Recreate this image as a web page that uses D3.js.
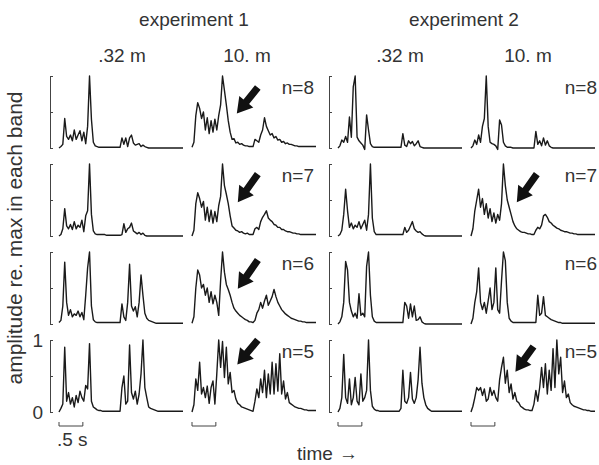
<!DOCTYPE html>
<html>
<head>
<meta charset="utf-8">
<script src="https://cdn.jsdelivr.net/npm/d3@7"></script>
<style>
  body { margin: 0; background: #fff; }
  svg text { font-family: "Liberation Sans", Arial, sans-serif; fill: #333; }
</style>
</head>
<body>
<svg id="chart" width="599" height="465"></svg>
<script>
// sampled envelopes, one value every dt seconds, amplitude re. max in each band
const dt = 0.04

const expLabels  = ['experiment 1', 'experiment 2']
const distLabels = ['.32 m', '10. m', '.32 m', '10. m']
const bandLabels = ['n=8', 'n=7', 'n=6', 'n=5']

const exp1Near_n8 = [
  0, 0.02, 0.05, 0.41, 0.16, 0.12, 0.18, 0.1, 0.25, 0.12,
  0.18, 0.24, 0.1, 0.22, 0.06, 0.3, 1.0, 0.4, 0.08, 0.03,
  0.02, 0.01, 0.01, 0.01, 0.01, 0.01, 0.01, 0.01, 0.01, 0.01,
  0.01, 0.01, 0.01, 0.14, 0.05, 0.14, 0.02, 0.14, 0.18, 0.07,
  0.04, 0.05, 0.06, 0.02, 0.04, 0.02, 0.01, 0, 0, 0,
  0, 0, 0, 0, 0, 0, 0, 0, 0, 0,
  0, 0, 0, 0, 0, 0]
const exp1Far_n8 = [
  0.01, 0.08, 0.45, 0.63, 0.55, 0.41, 0.5, 0.25, 0.42, 0.2,
  0.38, 0.22, 0.4, 0.25, 0.45, 0.6, 1.0, 0.8, 0.6, 0.38,
  0.22, 0.12, 0.13, 0.07, 0.08, 0.05, 0.06, 0.04, 0.03, 0.03,
  0.02, 0.02, 0.02, 0.12, 0.1, 0.08, 0.18, 0.25, 0.42, 0.3,
  0.24, 0.18, 0.2, 0.14, 0.16, 0.11, 0.12, 0.08, 0.09, 0.06,
  0.07, 0.05, 0.05, 0.04, 0.03, 0.03, 0.02, 0.02, 0.02, 0.02,
  0.02, 0.02, 0.02, 0.02, 0.02, 0.02]
const exp2Near_n8 = [
  0, 0.03, 0.11, 0.08, 0.16, 0.08, 0.43, 0.15, 0.85, 1.0,
  0.15, 0.1, 0.07, 0.04, -0.02, 0.46, 0.25, 0.06, 0.02, 0.01,
  0.01, 0.01, 0.01, 0.01, 0.01, 0.01, 0.01, 0.01, 0.01, 0.01,
  0.01, 0.01, 0.01, 0.01, 0.2, 0.04, 0.02, 0.1, 0.06, 0.09,
  0.03, 0.06, 0.1, 0.02, 0.01, 0, 0, 0, 0, 0,
  0, 0, 0, 0, 0, 0, 0, 0, 0, 0,
  0, 0, 0, 0, 0, 0]
const exp2Far_n8 = [
  0, 0.03, 0.11, 0.05, 0.18, 0.08, 0.3, 0.41, 1.0, 0.3,
  0.08, 0.06, 0.05, 0.03, -0.02, 0.39, 0.32, 0.08, 0.03, 0.01,
  0.01, 0.01, 0, 0, 0, 0, 0, 0, 0, 0,
  0, 0, 0, 0, 0.23, 0.05, 0.1, 0.03, 0.14, 0.04,
  0.1, 0.03, 0.01, 0, 0, 0, 0, 0, 0, 0,
  0, 0, 0, 0, 0, 0, 0, 0, 0, 0,
  0, 0, 0, 0, 0, 0]

const exp1Near_n7 = [
  0, 0.02, 0.1, 0.38, 0.14, 0.1, 0.16, 0.09, 0.2, 0.1,
  0.15, 0.12, 0.22, 0.06, 0.28, 0.35, 1.0, 0.3, 0.07, 0.03,
  0.02, 0.02, 0.02, 0.02, 0.02, 0.01, 0.01, 0.01, 0.01, 0.01,
  0.01, 0.01, 0.01, 0.02, 0.17, 0.05, 0.1, 0.12, 0.18, 0.07,
  0.05, 0.03, 0.05, 0.02, 0.04, 0.01, 0, 0, 0, 0,
  0, 0, 0, 0, 0, 0, 0, 0, 0, 0,
  0, 0, 0, 0, 0, 0]
const exp1Far_n7 = [
  0, 0.08, 0.45, 0.6, 0.52, 0.4, 0.48, 0.22, 0.4, 0.2,
  0.36, 0.18, 0.34, 0.2, 0.42, 0.55, 1.0, 0.7, 0.58, 0.45,
  0.28, 0.14, 0.11, 0.08, 0.07, 0.05, 0.06, 0.04, 0.03, 0.04,
  0.02, 0.02, 0.02, 0.1, 0.12, 0.09, 0.2, 0.26, 0.3, 0.35,
  0.25, 0.22, 0.2, 0.16, 0.15, 0.12, 0.12, 0.09, 0.09, 0.07,
  0.06, 0.06, 0.05, 0.04, 0.04, 0.03, 0.03, 0.02, 0.02, 0.02,
  0.02, 0.02, 0.02, 0.02, 0.02, 0.02]
const exp2Near_n7 = [
  0, 0.02, 0.08, 0.3, 0.65, 0.35, 0.12, 0.18, 0.1, 0.15,
  0.12, 0.2, 0.1, 0.16, 0.22, 0.08, 0.3, 1.0, 0.25, 0.06,
  0.02, 0.02, 0.02, 0.02, 0.02, 0.02, 0.02, 0.02, 0.02, 0.02,
  0.02, 0.02, 0.02, 0.02, 0.02, 0.12, 0.05, 0.08, 0.14, 0.2,
  0.1, 0.07, 0.05, 0.06, 0.03, 0.01, 0, 0, 0, 0,
  0, 0, 0, 0, 0, 0, 0, 0, 0, 0,
  0, 0, 0, 0, 0, 0]
const exp2Far_n7 = [
  0, 0.1, 0.35, 0.5, 0.65, 0.4, 0.52, 0.3, 0.45, 0.25,
  0.38, 0.2, 0.32, 0.18, 0.3, 0.22, 0.45, 1.0, 0.7, 0.5,
  0.4, 0.3, 0.2, 0.14, 0.1, 0.08, 0.06, 0.05, 0.05, 0.04,
  0.03, 0.03, 0.02, 0.02, 0.08, 0.12, 0.1, 0.15, 0.28, 0.3,
  0.26, 0.2, 0.18, 0.15, 0.13, 0.11, 0.1, 0.08, 0.07, 0.06,
  0.06, 0.05, 0.04, 0.04, 0.03, 0.03, 0.02, 0.02, 0.02, 0.02,
  0.02, 0.02, 0.02, 0.02, 0.02, 0.02]

const exp1Near_n6 = [
  0.02, 0.05, 0.25, 0.86, 0.3, 0.12, 0.2, 0.1, 0.14, 0.12,
  0.18, 0.1, 0.16, 0.06, 0.4, 0.78, 1.0, 0.25, 0.06, 0.03,
  0.02, 0.02, 0.02, 0.02, 0.02, 0.02, 0.02, 0.02, 0.02, 0.02,
  0.02, 0.02, 0.02, 0.28, 0.1, 0.05, 0.3, 0.83, 0.25, 0.18,
  0.24, 0.1, 0.3, 0.68, 0.4, 0.15, 0.08, 0.05, 0.04, 0.03,
  0.02, 0.01, 0.01, 0.01, 0.01, 0.01, 0.01, 0.01, 0.01, 0.01,
  0.01, 0.01, 0.01, 0.01, 0.01, 0.01]
const exp1Far_n6 = [
  0.01, 0.1, 0.5, 0.75, 0.68, 0.5, 0.55, 0.4, 0.5, 0.3,
  0.45, 0.28, 0.4, 0.3, 0.12, 0.6, 1.0, 0.72, 0.55, 0.48,
  0.4, 0.3, 0.22, 0.18, 0.15, 0.12, 0.1, 0.08, 0.06, 0.05,
  0.03, 0.03, 0.02, 0.05, 0.15, 0.2, 0.3, 0.22, 0.32, 0.4,
  0.26, 0.32, 0.38, 0.48, 0.38, 0.3, 0.25, 0.2, 0.17, 0.14,
  0.12, 0.1, 0.08, 0.07, 0.06, 0.05, 0.04, 0.04, 0.03, 0.03,
  0.02, 0.02, 0.02, 0.02, 0.02, 0.02]
const exp2Near_n6 = [
  0, 0.03, 0.1, 0.3, 0.87, 0.75, 0.3, 0.18, 0.1, 0.15,
  0.08, 0.42, 0.12, 0.15, 0.1, 0.8, 1.0, 0.4, 0.1, 0.04,
  0.02, 0.02, 0.02, 0.02, 0.02, 0.02, 0.02, 0.02, 0.02, 0.02,
  0.02, 0.02, 0.02, 0.02, 0.02, 0.3, 0.25, 0.08, 0.28, 0.1,
  0.25, 0.05, 0.06, 0.1, 0.03, 0.01, 0, 0, 0, 0,
  0, 0, 0, 0, 0, 0, 0, 0, 0, 0,
  0, 0, 0, 0, 0, 0]
const exp2Far_n6 = [
  0, 0.08, 0.3, 0.45, 0.78, 0.3, 0.2, 0.3, 0.15, 0.32,
  0.5, 0.2, 0.3, 0.78, 0.2, 0.15, 0.6, 1.0, 0.88, 0.3,
  0.08, 0.04, 0.02, 0.02, 0.02, 0.02, 0.02, 0.02, 0.02, 0.02,
  0.02, 0.02, 0.02, 0.02, 0.02, 0.4, 0.12, 0.15, 0.38, 0.12,
  0.1, 0.08, 0.06, 0.05, 0.04, 0.03, 0.02, 0.02, 0.01, 0.01,
  0.01, 0.01, 0.01, 0.01, 0.01, 0.01, 0.01, 0.01, 0.01, 0.01,
  0.01, 0.01, 0.01, 0.01, 0.01, 0.01]

const exp1Near_n5 = [
  0, 0.05, 0.11, 0.9, 0.15, 0.27, 0.11, 0.2, 0.07, 0.23,
  0.13, 0.29, 0.2, 0.15, 0.37, 0.32, 0.95, 0.15, 0.07, 0.05,
  0.03, 0.02, 0.02, 0.01, 0.01, 0.01, 0.01, 0.01, 0.01, 0.01,
  0.01, 0.01, 0.01, 0.34, 0.5, 0.11, 0.15, 0.93, 0.27, 0.18,
  0.29, 0.11, 0.25, 0.53, 1.0, 0.34, 0.2, 0.07, 0.05, 0.04,
  0.03, 0.02, 0.01, 0.01, 0.01, 0.01, 0.01, 0.01, 0.01, 0.01,
  0.01, 0.01, 0.01, 0.01, 0.01, 0.01]
const exp1Far_n5 = [
  0, 0.1, 0.46, 0.3, 0.69, 0.25, 0.34, 0.2, 0.36, 0.12,
  0.34, 0.43, 0.11, 0.53, 1.0, 0.62, 0.98, 0.48, 0.9, 0.39,
  0.55, 0.27, 0.3, 0.18, 0.12, 0.1, 0.07, 0.06, 0.05, 0.04,
  0.03, 0.02, 0.01, 0.15, 0.32, 0.2, 0.46, 0.27, 0.58, 0.2,
  0.53, 0.25, 0.69, 0.25, 0.67, 0.29, 0.81, 0.25, 0.43, 0.18,
  0.27, 0.13, 0.11, 0.09, 0.07, 0.06, 0.05, 0.05, 0.04, 0.03,
  0.03, 0.02, 0.02, 0.02, 0.02, 0.02]
const exp2Near_n5 = [
  0, 0.05, 0.2, 0.8, 0.2, 0.12, 0.46, 0.1, 0.2, 0.48,
  0.15, 0.1, 0.53, 0.15, 0.2, 0.3, 1.0, 0.3, 0.08, 0.04,
  0.02, 0.02, 0.01, 0.01, 0.01, 0.01, 0.01, 0.01, 0.01, 0.01,
  0.01, 0.01, 0.01, 0.05, 0.58, 0.15, 0.12, 0.2, 0.55, 0.18,
  0.12, 0.2, 0.45, 0.9, 0.4, 0.2, 0.1, 0.05, 0.03, 0.01,
  0.01, 0.01, 0.01, 0.01, 0.01, 0.01, 0.01, 0.01, 0.01, 0.01,
  0.01, 0.01, 0.01, 0.01, 0.01, 0.01]
const exp2Far_n5 = [
  0, 0.08, 0.2, 0.34, 0.3, 0.34, 0.23, 0.32, 0.15, 0.18,
  0.34, 0.23, 0.3, 0.2, 0.15, 0.45, 0.62, 0.76, 0.4, 0.58,
  0.27, 0.39, 0.18, 0.27, 0.15, 0.13, 0.08, 0.06, 0.04, 0.03,
  0.03, 0.02, 0.02, 0.11, 0.3, 0.15, 0.34, 0.62, 0.34, 0.67,
  0.25, 0.58, 0.3, 0.88, 0.34, 1.0, 0.53, 0.76, 0.27, 0.43,
  0.2, 0.25, 0.13, 0.1, 0.08, 0.07, 0.06, 0.05, 0.04, 0.03,
  0.03, 0.02, 0.02, 0.01, 0.01, 0.01]

const rows = [
  [exp1Near_n8, exp1Far_n8, exp2Near_n8, exp2Far_n8],
  [exp1Near_n7, exp1Far_n7, exp2Near_n7, exp2Far_n7],
  [exp1Near_n6, exp1Far_n6, exp2Near_n6, exp2Far_n6],
  [exp1Near_n5, exp1Far_n5, exp2Near_n5, exp2Far_n5]
]

// arrows: [row, col, tail t, tail amp, tip t, tip amp]
const arrows = [
  [0, 1, 1.38, 0.84, 0.94, 0.48],
  [1, 1, 1.38, 0.86, 0.96, 0.47],
  [2, 1, 1.38, 0.89, 0.96, 0.49],
  [3, 1, 1.38, 1.0, 0.95, 0.66],
  [1, 3, 1.38, 0.86, 0.96, 0.47],
  [3, 3, 1.31, 0.91, 0.93, 0.56]
]

// layout
const colLeft = [59, 192, 338, 471]
const rowTop  = [76, 164, 252, 340]
const panelW = 124, panelH = 72
const ink = '#1a1a1a', grey = '#444'

const svg = d3.select('#chart')

const x = d3.scaleLinear().domain([0, 2.6]).range([0, panelW])
const y = d3.scaleLinear().domain([0, 1]).range([panelH, 0])

const line = d3.line()
  .x((d, i) => x(i * dt))
  .y(d => y(d))

rows.forEach((row, r) => {
  row.forEach((vals, c) => {
    const g = svg.append('g')
      .attr('transform', 'translate(' + colLeft[c] + ',' + rowTop[r] + ')')

    g.append('path')
      .datum(vals)
      .attr('d', line)
      .attr('fill', 'none')
      .attr('stroke', ink)
      .attr('stroke-width', 1.4)
      .attr('stroke-linejoin', 'round')

    if (c === 0 || c === 2) {
      const ax = svg.append('g')
        .attr('transform', 'translate(' + (colLeft[c] - 9) + ',' + rowTop[r] + ')')
        .call(d3.axisLeft(y)
          .tickValues([0, 0.5, 1])
          .tickSizeInner(-3)
          .tickSizeOuter(-3)
          .tickPadding(7)
          .tickFormat(d => (r === 3 && c === 0 && d !== 0.5) ? d3.format('d')(d) : ''))
      ax.attr('color', grey)
      ax.selectAll('text')
        .attr('font-size', 19)
        .attr('font-family', '"Liberation Sans", Arial, sans-serif')
        .style('fill', '#333')
    }

    if (c === 1 || c === 3) {
      svg.append('text')
        .attr('x', c === 1 ? 314 : 597)
        .attr('y', rowTop[r] + 18)
        .attr('text-anchor', 'end')
        .attr('font-size', 19)
        .text(bandLabels[r])
    }
  })
})

// black arrows
function arrowPath (x0, y0, x1, y1) {
  const dx = x1 - x0, dy = y1 - y0
  const L = Math.sqrt(dx * dx + dy * dy)
  const ux = dx / L, uy = dy / L
  const nx = -uy, ny = ux
  const head = 15, sh = 3.6, hh = 9
  const bx = x1 - ux * head, by = y1 - uy * head
  const pts = [
    [x0 + nx * sh, y0 + ny * sh],
    [bx + nx * sh, by + ny * sh],
    [bx + nx * hh, by + ny * hh],
    [x1, y1],
    [bx - nx * hh, by - ny * hh],
    [bx - nx * sh, by - ny * sh],
    [x0 - nx * sh, y0 - ny * sh]
  ]
  return 'M' + pts.map(p => p[0].toFixed(1) + ',' + p[1].toFixed(1)).join('L') + 'Z'
}

arrows.forEach(a => {
  const ox = colLeft[a[1]], oy = rowTop[a[0]]
  svg.append('path')
    .attr('d', arrowPath(ox + x(a[2]), oy + y(a[3]), ox + x(a[4]), oy + y(a[5])))
    .attr('fill', '#111')
})

// .5 s scale bars under the bottom row
colLeft.forEach(cx => {
  const x0 = cx + x(0), x1 = cx + x(0.5)
  svg.append('path')
    .attr('d', 'M' + x0 + ',422V426H' + x1 + 'V422')
    .attr('fill', 'none')
    .attr('stroke', grey)
    .attr('stroke-width', 1)
})

svg.append('text').attr('x', 57).attr('y', 446).attr('font-size', 19).text('.5 s')

const tl = svg.append('text').attr('x', 297).attr('y', 460).attr('font-size', 19)
tl.append('tspan').text('time')
tl.append('tspan').attr('dx', 6).text('\u2192')

// headers
svg.append('text').attr('x', 194).attr('y', 26).attr('text-anchor', 'middle')
  .attr('font-size', 19).text(expLabels[0])
svg.append('text').attr('x', 464).attr('y', 26).attr('text-anchor', 'middle')
  .attr('font-size', 19).text(expLabels[1])

const distX = [122, 247, 400, 528]
distLabels.forEach((t, i) => {
  svg.append('text').attr('x', distX[i]).attr('y', 62).attr('text-anchor', 'middle')
    .attr('font-size', 19).text(t)
})

svg.append('text')
  .attr('transform', 'translate(22,238) rotate(-90)')
  .attr('text-anchor', 'middle')
  .attr('font-size', 21)
  .text('amplitude re. max in each band')
</script>
</body>
</html>
